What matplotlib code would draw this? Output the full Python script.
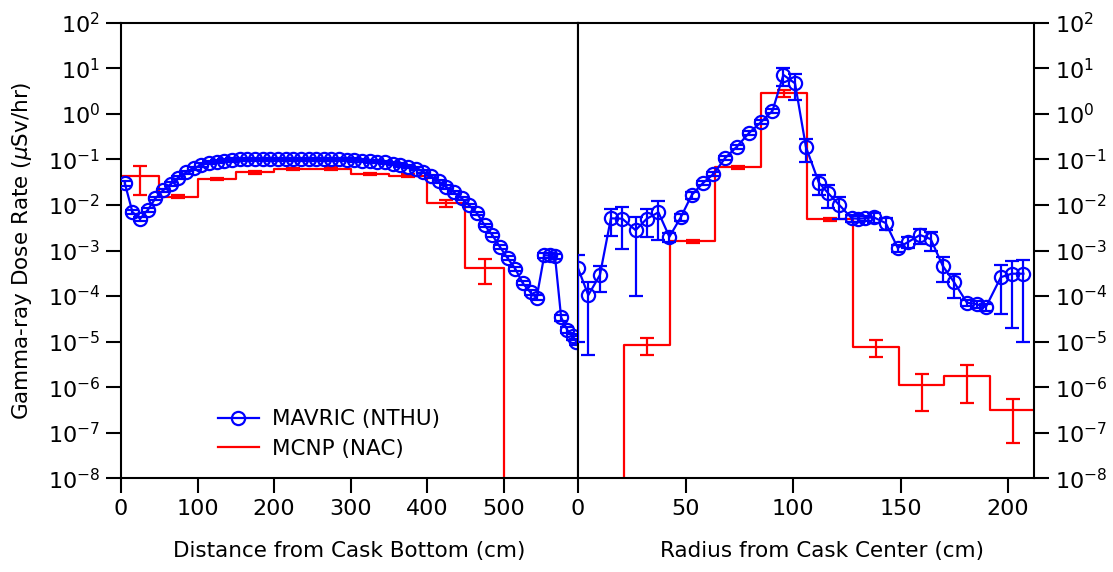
import numpy as np
import matplotlib
matplotlib.use("Agg")
import matplotlib.pyplot as plt
from matplotlib.ticker import FixedLocator, LogFormatterMathtext, NullLocator

# ---- left panel: distance from cask bottom (cm) ----
axial_pos = [5, 15, 25, 35, 45, 55, 65, 75, 85, 95, 105, 115, 125, 135, 145,
             155, 165, 175, 185, 195, 205, 215, 225, 235, 245, 255, 265, 275,
             285, 295, 305, 315, 325, 335, 345, 355, 365, 375, 385, 395, 405,
             415, 425, 435, 445, 455, 465, 475, 485, 495, 505, 515, 525, 535,
             543, 553, 560, 567, 575, 583, 590, 595]
axial_mavric = [0.030, 0.0070, 0.0050, 0.0078, 0.014, 0.021, 0.029, 0.040,
                0.052, 0.064, 0.076, 0.085, 0.090, 0.094, 0.098, 0.100, 0.101,
                0.100, 0.101, 0.100, 0.101, 0.100, 0.101, 0.100, 0.101, 0.100,
                0.101, 0.100, 0.100, 0.099, 0.098, 0.094, 0.091, 0.089, 0.086,
                0.081, 0.076, 0.070, 0.063, 0.054, 0.043, 0.033, 0.025, 0.019,
                0.014, 0.0098, 0.0066, 0.0036, 0.0022, 0.0012, 0.00068,
                0.00040, 0.00019, 0.00012, 0.000092, 0.00079, 0.00078,
                0.00074, 3.4e-5, 1.8e-5, 1.3e-5, 1.0e-5]
axial_mavric_relerr = [0.12, 0.10, 0.10, 0.10, 0.08, 0.08, 0.08, 0.08, 0.08,
                       0.08, 0.08, 0.08, 0.08, 0.08, 0.08, 0.08, 0.08, 0.08,
                       0.08, 0.08, 0.08, 0.08, 0.08, 0.08, 0.08, 0.08, 0.08,
                       0.08, 0.08, 0.08, 0.08, 0.08, 0.08, 0.08, 0.08, 0.08,
                       0.08, 0.08, 0.08, 0.08, 0.08, 0.08, 0.08, 0.08, 0.08,
                       0.08, 0.08, 0.08, 0.08, 0.08, 0.10, 0.10, 0.10, 0.12,
                       0.12, 0.12, 0.12, 0.12, 0.15, 0.15, 0.15, 0.15]
axial_edges = [0, 50, 100, 150, 200, 250, 300, 350, 400, 450, 500, 600]
axial_mcnp = [0.044, 0.0153, 0.0373, 0.0526, 0.0616, 0.063, 0.048, 0.044,
              0.0112, 0.00041, 0.0]
axial_mcnp_err = [0.027, 0.0012, 0.0025, 0.0035, 0.004, 0.004, 0.003, 0.003,
                  0.0020, 0.00023, 0.0]

# ---- right panel: radius from cask center (cm) ----
radial_pos = [0, 4.8, 10.2, 15.3, 20.6, 26.8, 32.0, 37.4, 42.5, 47.9, 52.9,
              58.0, 63.0, 68.4, 73.8, 79.5, 85.1, 90.4, 95.5, 100.9, 106.0,
              112.0, 116.4, 121.5, 127.3, 130.4, 133.5, 137.4, 143.1, 148.7,
              153.6, 159.0, 164.0, 169.6, 174.9, 180.8, 185.4, 189.6, 196.6,
              201.7, 207.1]
radial_mavric = [4.1e-4, 1.05e-4, 2.9e-4, 5.1e-3, 5.0e-3, 2.8e-3, 5.0e-3,
                 6.9e-3, 2.0e-3, 5.5e-3, 0.0166, 0.030, 0.048, 0.107, 0.19,
                 0.38, 0.66, 1.16, 7.2, 4.7, 0.186, 0.031, 0.018, 0.010,
                 0.0051, 0.0050, 0.0051, 0.0054, 0.0040, 0.00114, 0.00155,
                 0.0022, 0.00178, 4.6e-4, 2.0e-4, 7.2e-5, 6.6e-5, 5.7e-5,
                 2.6e-4, 3.1e-4, 3.1e-4]
radial_mavric_err = [4.0e-4, 1.0e-4, 1.7e-4, 3.0e-3, 3.9e-3, 2.7e-3, 3.0e-3,
                     5.2e-3, 4.5e-4, 1.0e-3, 3.0e-3, 3.0e-3, 4.5e-3, 0.01,
                     0.018, 0.035, 0.06, 0.11, 3.0, 2.7, 0.10, 0.014, 0.0095,
                     0.005, 0.0008, 0.0007, 0.0007, 0.0013, 0.0012, 0.0002,
                     0.0004, 0.0008, 0.0008, 2.6e-4, 1.1e-4, 1.0e-5, 1.0e-5,
                     1.0e-5, 2.2e-4, 2.9e-4, 3.0e-4]
radial_edges = [0, 21.3, 42.6, 63.9, 85.2, 106.5, 127.8, 149.1, 170.4, 191.7,
                213.0]
radial_mcnp = [0.0, 8.5e-6, 0.0016, 0.067, 2.9, 0.0049, 7.6e-6, 1.1e-6,
               1.74e-6, 3.1e-7]
radial_mcnp_err = [0.0, 3.3e-6, 1.0e-4, 0.004, 0.5, 0.0004, 3.0e-6, 8.0e-7,
                   1.3e-6, 2.5e-7]

blue = (0, 0, 1)
red = (1, 0, 0)
lw = 1.6

fig = plt.figure(figsize=(11.13, 5.72), dpi=100)
ax_l = fig.add_axes([0.1087, 0.164, 0.4106, 0.796])
ax_r = fig.add_axes([0.5193, 0.164, 0.4097, 0.796])


def draw_panel(ax, pos, mav, mav_err, edges, mcnp, mcnp_err):
    centers = [(a + b) / 2 for a, b in zip(edges[:-1], edges[1:])]
    ax.plot(edges, list(mcnp) + [mcnp[-1]], drawstyle='steps-post', color=red,
            lw=lw, label='MCNP (NAC)', zorder=2)
    ax.errorbar(centers, mcnp, yerr=mcnp_err, fmt='none', ecolor=red,
                elinewidth=lw, capsize=5, capthick=lw, zorder=2)
    ax.errorbar(pos, mav, yerr=mav_err, fmt='none', ecolor=blue,
                elinewidth=lw, capsize=5, capthick=lw, zorder=3)
    ax.plot(pos, mav, '-o', color=blue, lw=lw, ms=9.5, mfc='none', mew=lw,
            label='MAVRIC (NTHU)', zorder=3)

    ax.set_yscale('log')
    ax.set_ylim(1e-8, 1e2)
    ax.yaxis.set_major_locator(FixedLocator([10.0 ** k for k in range(-8, 3)]))
    ax.yaxis.set_major_formatter(LogFormatterMathtext())
    ax.yaxis.set_minor_locator(NullLocator())
    ax.tick_params(which='major', direction='out', length=11, width=1.5,
                   labelsize=16, pad=4)
    for sp in ax.spines.values():
        sp.set_linewidth(1.5)


axial_err = [v * r for v, r in zip(axial_mavric, axial_mavric_relerr)]
draw_panel(ax_l, axial_pos, axial_mavric, axial_err, axial_edges,
           axial_mcnp, axial_mcnp_err)
draw_panel(ax_r, radial_pos, radial_mavric, radial_mavric_err, radial_edges,
           radial_mcnp, radial_mcnp_err)

ax_l.set_xlim(0, 597)
ax_l.set_xticks([0, 100, 200, 300, 400, 500])
ax_l.tick_params(axis='y', left=True, right=False)
ax_l.set_xlabel('Distance from Cask Bottom (cm)', fontsize=15.5, labelpad=16)
ax_l.set_ylabel(r'Gamma-ray Dose Rate ($\mu$Sv/hr)', fontsize=15.5,
                labelpad=10)

ax_r.set_xlim(0, 212)
ax_r.set_xticks([0, 50, 100, 150, 200])
ax_r.yaxis.tick_right()
ax_r.set_xlabel('Radius from Cask Center (cm)', fontsize=15.5, labelpad=16)
ax_r.xaxis.label.set_x(0.535)

handles, labels = ax_l.get_legend_handles_labels()
ax_l.legend(handles[::-1], labels[::-1], loc='lower left',
            bbox_to_anchor=(0.17, 0.0), frameon=False, fontsize=15.5,
            handlelength=1.9, handletextpad=0.6, labelspacing=0.45)

fig.savefig('out.png', dpi=100)
